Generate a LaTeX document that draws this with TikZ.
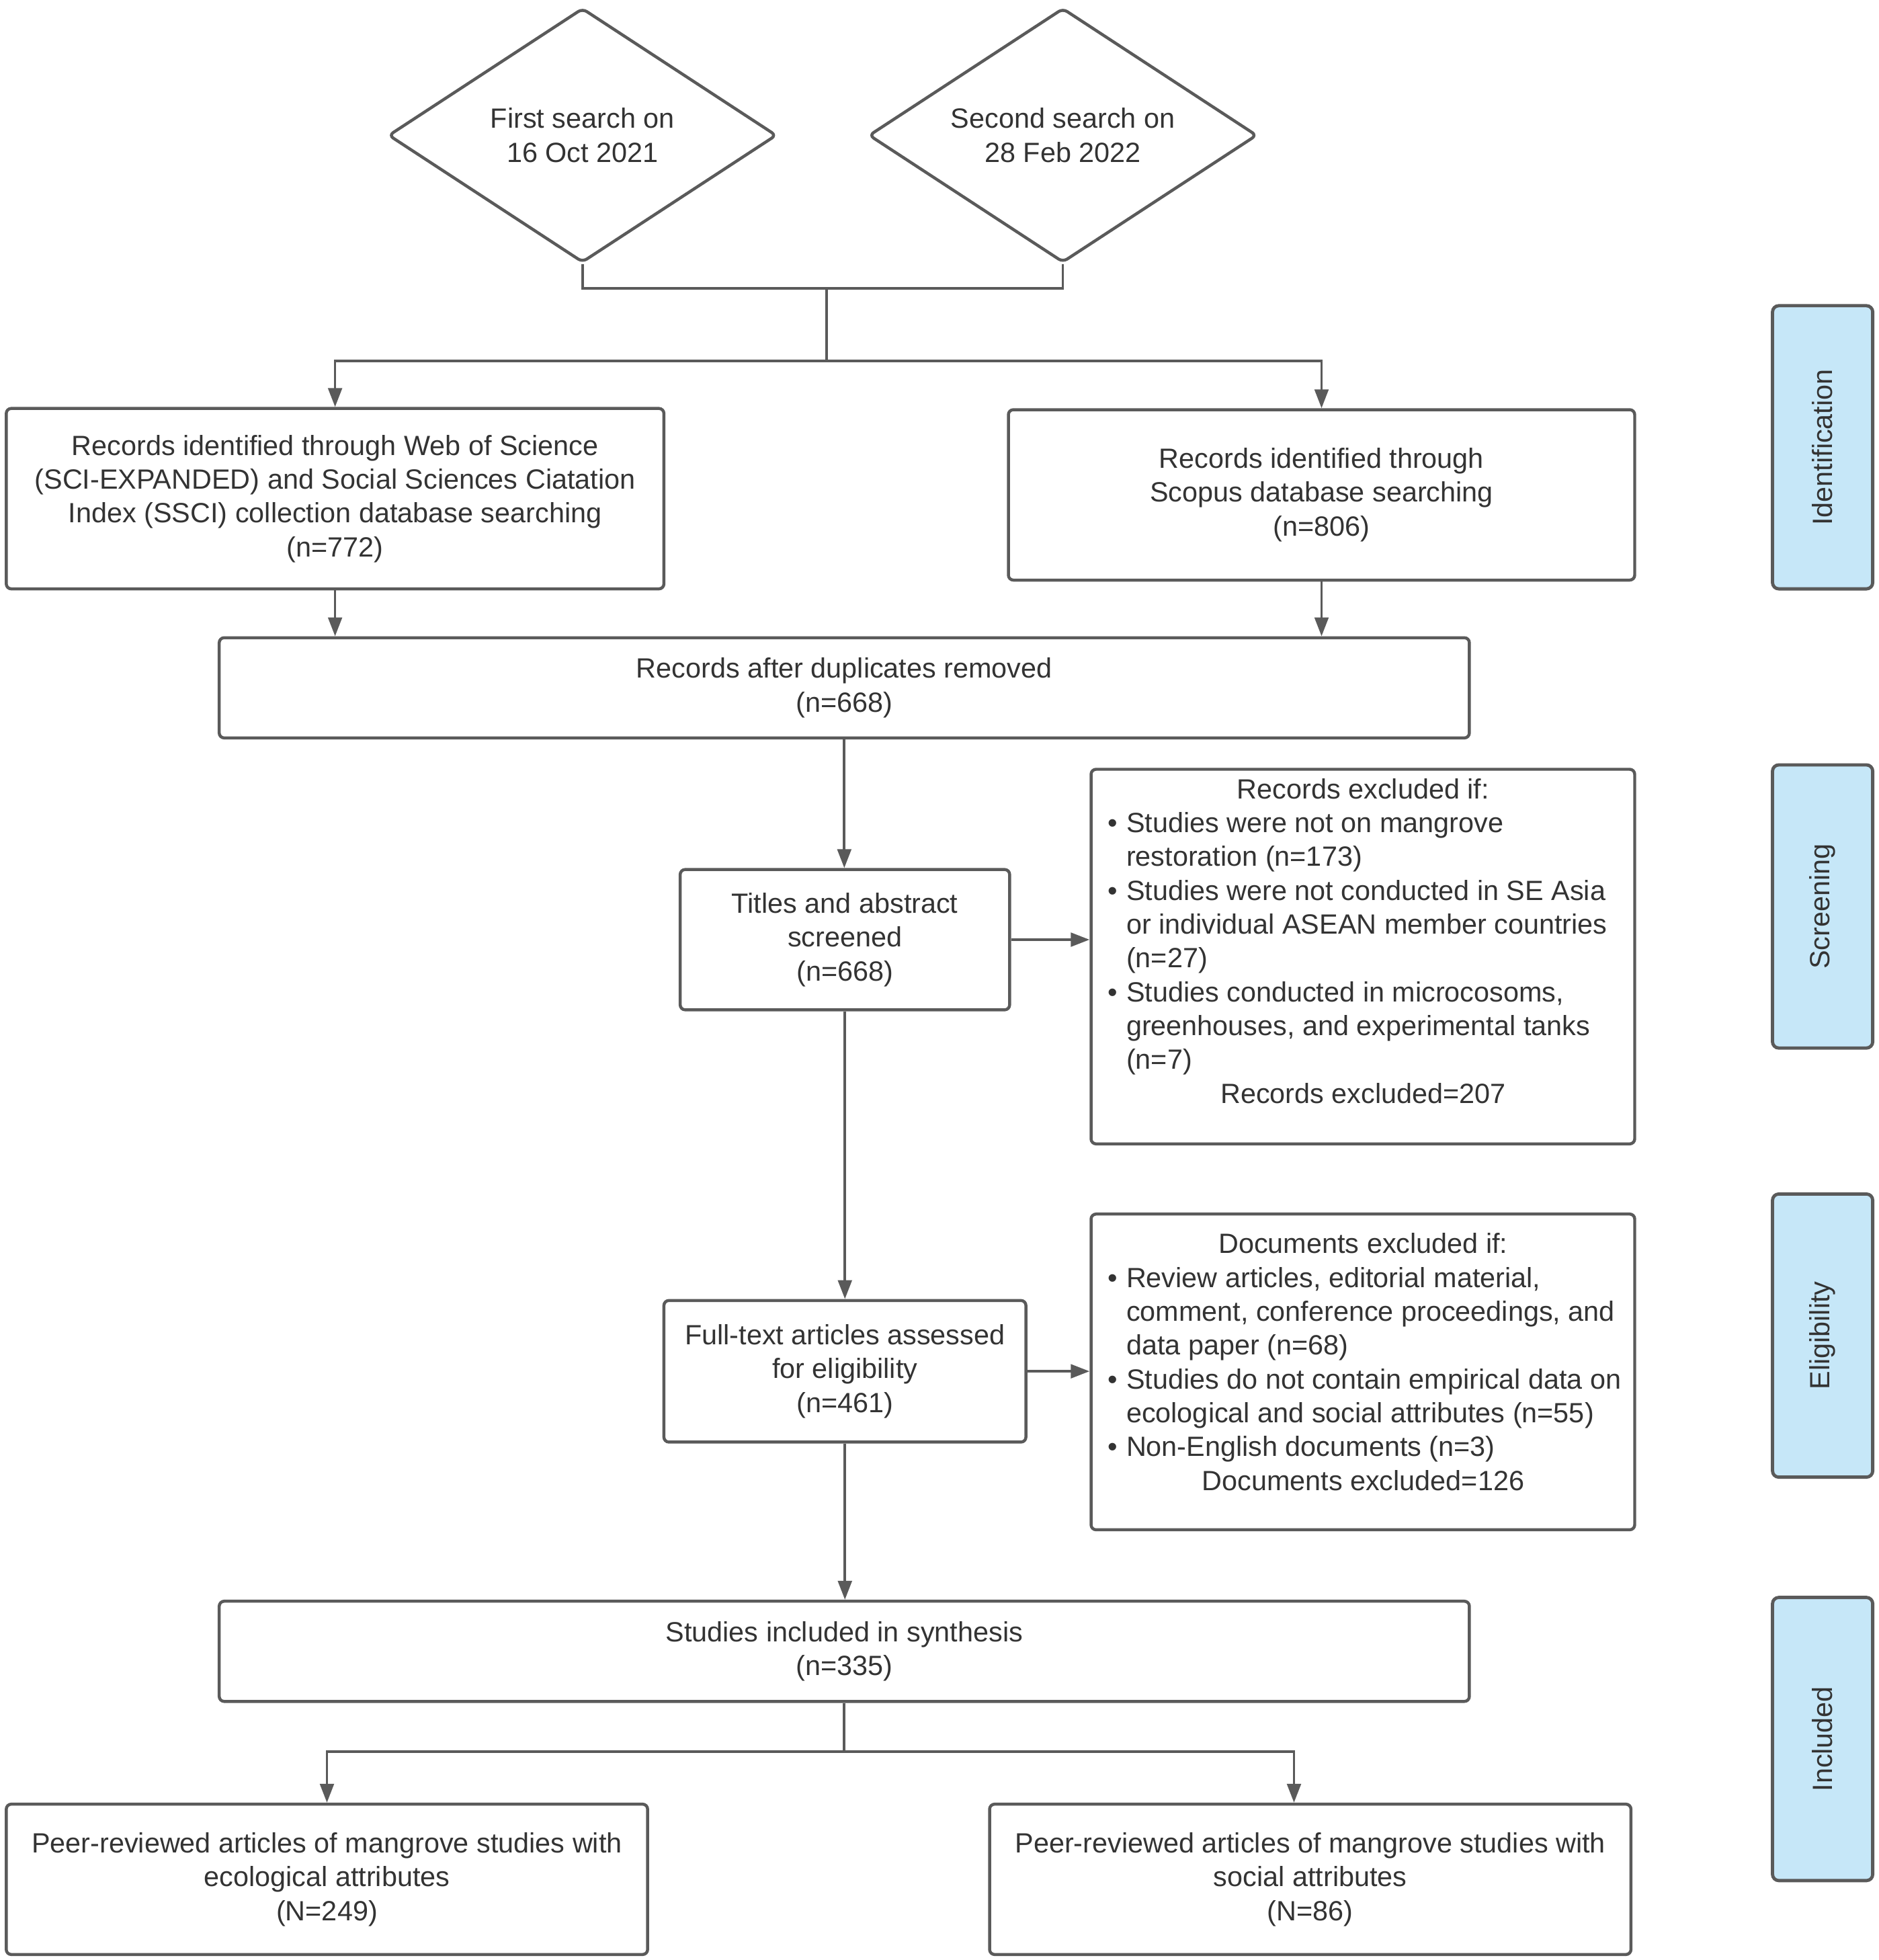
\documentclass[tikz,border=0pt]{standalone}
\usepackage{fontspec}
\setmainfont{Liberation Sans}
\usetikzlibrary{shapes.geometric,arrows.meta}
\definecolor{edge}{HTML}{5A5A5A}
\definecolor{txt}{HTML}{333333}
\definecolor{phase}{HTML}{C6E7F8}
\newcommand{\mybul}{\makebox[15pt][l]{\textbullet}}
\newcommand{\myind}{\hspace*{15pt}}
\begin{document}
\begin{tikzpicture}[x=1pt,y=-1pt,
  font=\fontsize{22.2}{27}\selectfont, text=txt,
  box/.style={draw=edge, line width=2.4pt, rounded corners=4pt, fill=white, align=center, inner sep=0pt},
  dia/.style={draw=edge, line width=2.4pt, rounded corners=4pt, shape=diamond, aspect=1.5, inner sep=0pt, minimum width=310pt, minimum height=203pt, align=center},
  phasebox/.style={draw=edge, line width=2.6pt, rounded corners=5pt, fill=phase, rotate=90, minimum width=226pt, minimum height=80pt, inner sep=0pt},
  txtblock/.style={anchor=west, align=left, inner sep=0pt},
  conn/.style={draw=edge, line width=2pt},
  arr/.style={conn, -{Triangle[width=11pt,length=15pt]}}]
\useasboundingbox (0,0) rectangle (1500,1564.4);

% diamonds
\node[dia] (d1) at (465,108) {First search on\\16 Oct 2021};
\node[dia] (d2) at (848.5,108) {Second search on\\28 Feb 2022};

% boxes
\node[box, minimum width=525pt, minimum height=144pt] (b1) at (267.5,398) {Records identified through Web of Science\\(SCI-EXPANDED) and Social Sciences Ciatation\\Index (SSCI) collection database searching\\(n=772)};
\node[box, minimum width=500pt, minimum height=136pt] (b2) at (1055,395) {Records identified through\\Scopus database searching\\(n=806)};
\node[box, minimum width=998pt, minimum height=80pt] (b3) at (674,549) {Records after duplicates removed\\(n=668)};
\node[box, minimum width=263pt, minimum height=112pt] (b4) at (674.5,750) {Titles and abstract\\screened\\(n=668)};
\node[box, minimum width=434pt, minimum height=299pt] (b5) at (1088,763.5) {};
\node[txtblock] (t5) at (884,751) {\makebox[408pt][c]{Records excluded if:}\\
\mybul Studies were not on mangrove\\
\myind restoration (n=173)\\
\mybul Studies were not conducted in SE Asia\\
\myind or individual ASEAN member countries\\
\myind (n=27)\\
\mybul Studies conducted in microcosoms,\\
\myind greenhouses, and experimental tanks\\
\myind (n=7)\\
\makebox[408pt][c]{Records excluded=207}};
\node[box, minimum width=289pt, minimum height=113pt] (b6) at (674.5,1094.5) {Full-text articles assessed\\for eligibility\\(n=461)};
\node[box, minimum width=434pt, minimum height=252pt] (b7) at (1088,1095) {};
\node[txtblock] (t7) at (884,1087) {\makebox[408pt][c]{Documents excluded if:}\\
\mybul Review articles, editorial material,\\
\myind comment, conference proceedings, and\\
\myind data paper (n=68)\\
\mybul Studies do not contain empirical data on\\
\myind ecological and social attributes (n=55)\\
\mybul Non-English documents (n=3)\\
\makebox[408pt][c]{Documents excluded=126}};
\node[box, minimum width=998pt, minimum height=80pt] (b8) at (674,1318) {Studies included in synthesis\\(n=335)};
\node[box, minimum width=512pt, minimum height=120pt] (b9) at (261,1500) {Peer-reviewed articles of mangrove studies with\\ecological attributes\\(N=249)};
\node[box, minimum width=512pt, minimum height=120pt] (b10) at (1046,1500) {Peer-reviewed articles of mangrove studies with\\social attributes\\(N=86)};

% phase labels
\node[phasebox] (p1) at (1455,357) {Identification};
\node[phasebox] (p2) at (1455,723.5) {Screening};
\node[phasebox] (p3) at (1455,1066) {Eligibility};
\node[phasebox] (p4) at (1455,1388) {Included};

% connectors
\coordinate (j1) at (660,230);
\coordinate (j2) at (660,288);
\draw[conn] (d1.south) -- (d1.south |- j1) -- (d2.south |- j1) -- (d2.south);
\draw[conn] (j1) -- (j2);
\draw[arr] (j2) -| (b1.north);
\draw[arr] (j2) -| (b2.north);
\draw[arr] (b1.south) -- (b1.south |- b3.north);
\draw[arr] (b2.south) -- (b2.south |- b3.north);
\draw[arr] (b3.south) -- (b3.south |- b4.north);
\draw[arr] (b4.east) -- (b4.east -| b5.west);
\draw[arr] (b4.south) -- (b4.south |- b6.north);
\draw[arr] (b6.east) -- (b6.east -| b7.west);
\draw[arr] (b6.south) -- (b6.south |- b8.north);
\coordinate (j3) at (674,1398);
\coordinate (k10) at (1033,1398);
\draw[conn] (b8.south) -- (j3);
\draw[arr] (j3) -| (b9.north);
\draw[arr] (j3) -- (k10) -- (k10 |- b10.north);
\end{tikzpicture}
\end{document}
